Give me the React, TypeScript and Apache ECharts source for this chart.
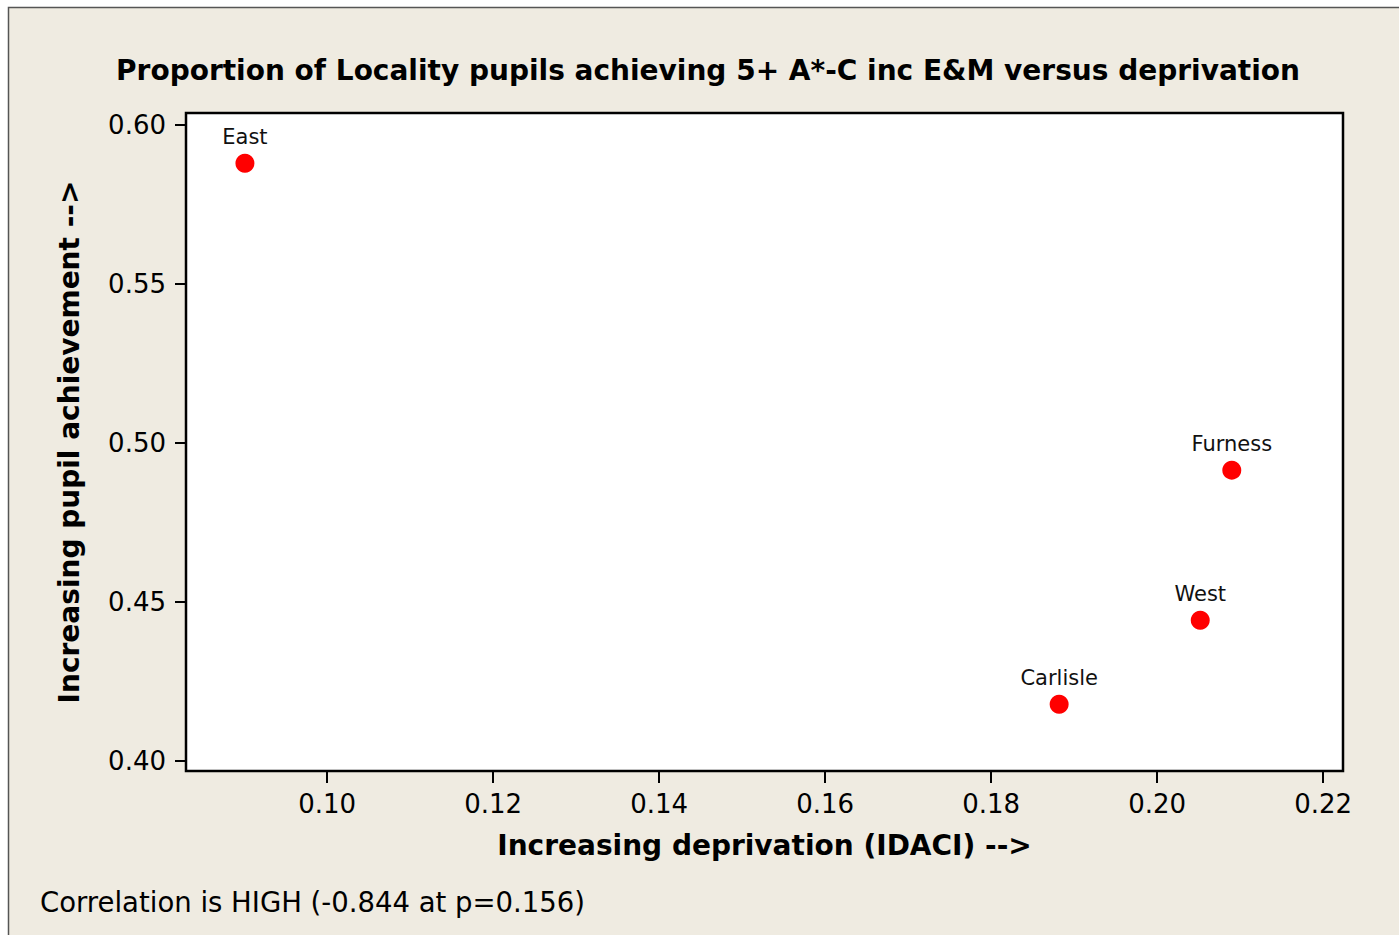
import React, { useEffect, useRef } from "react";
import * as echarts from "echarts";

const localities = ["East", "Furness", "West", "Carlisle"];
const deprivation = [0.0901, 0.2090, 0.2052, 0.1882];
const achievement = [0.588, 0.4915, 0.4443, 0.4179];
const xTicks = [0.10, 0.12, 0.14, 0.16, 0.18, 0.20, 0.22];
const yTicks = [0.40, 0.45, 0.50, 0.55, 0.60];

const titleText = "Proportion of Locality pupils achieving 5+ A*-C inc E&M versus deprivation";
const xName = "Increasing deprivation (IDACI) -->";
const yName = "Increasing pupil achievement -->";
const footerText = "Correlation is HIGH (-0.844 at p=0.156)";

const FONT = "DejaVu Sans";

export default function App() {
  const ref = useRef<HTMLDivElement>(null);
  useEffect(() => {
    if (!ref.current) return;
    const chart = echarts.init(ref.current, null, { renderer: "svg" });
    chart.setOption({
      animation: false,
      backgroundColor: "#ffffff",
      graphic: [
        {
          type: "rect",
          z: -10,
          silent: true,
          shape: { x: 8.5, y: 7.5, width: 1400, height: 940 },
          style: { fill: "#efebe1", stroke: "#555555", lineWidth: 1.5 },
        },
        {
          type: "text",
          x: 708,
          y: 70,
          style: {
            text: titleText,
            fontFamily: FONT,
            fontWeight: "bold",
            fontSize: 28,
            fill: "#000",
            align: "center",
            verticalAlign: "middle",
          },
        },
        {
          type: "text",
          x: 40,
          y: 902,
          style: {
            text: footerText,
            fontFamily: FONT,
            fontSize: 27.5,
            fill: "#000",
            align: "left",
            verticalAlign: "middle",
          },
        },
      ],
      grid: {
        left: 186,
        top: 113,
        right: 56,
        bottom: 164,
        show: true,
        backgroundColor: "#ffffff",
        borderColor: "#000000",
        borderWidth: 2.5,
      },
      xAxis: {
        type: "value",
        min: 0.083,
        max: 0.2224,
        name: xName,
        nameLocation: "middle",
        nameGap: 60,
        nameTextStyle: { fontFamily: FONT, fontWeight: "bold", fontSize: 28, color: "#000", verticalAlign: "top" },
        splitLine: { show: false },
        axisLine: { show: false },
        axisTick: { show: true, length: 12, lineStyle: { color: "#000", width: 2 }, customValues: xTicks },
        axisLabel: {
          margin: 20,
          fontFamily: FONT,
          fontSize: 26,
          color: "#000",
          customValues: xTicks,
          formatter: (v: number) => v.toFixed(2),
        },
      },
      yAxis: {
        type: "value",
        min: 0.3969,
        max: 0.6038,
        name: yName,
        nameLocation: "middle",
        nameGap: 103,
        nameTextStyle: { fontFamily: FONT, fontWeight: "bold", fontSize: 28, color: "#000" },
        splitLine: { show: false },
        axisLine: { show: false },
        axisTick: { show: true, length: 11, lineStyle: { color: "#000", width: 2 }, customValues: yTicks },
        axisLabel: {
          margin: 20,
          fontFamily: FONT,
          fontSize: 26,
          color: "#000",
          customValues: yTicks,
          formatter: (v: number) => v.toFixed(2),
        },
      },
      series: [
        {
          type: "scatter",
          symbol: "circle",
          symbolSize: 19,
          itemStyle: { color: "#ff0000", opacity: 1 },
          data: localities.map((n, i) => ({ name: n, value: [deprivation[i], achievement[i]] })),
          label: {
            show: true,
            position: "top",
            distance: 6,
            formatter: (p: any) => p.name,
            fontFamily: FONT,
            fontSize: 21,
            color: "#111",
          },
        },
      ],
    });
    return () => chart.dispose();
  }, []);
  return (
    <div
      ref={ref}
      style={{ position: "fixed", left: 0, top: 0, width: 1399, height: 935 }}
    />
  );
}
